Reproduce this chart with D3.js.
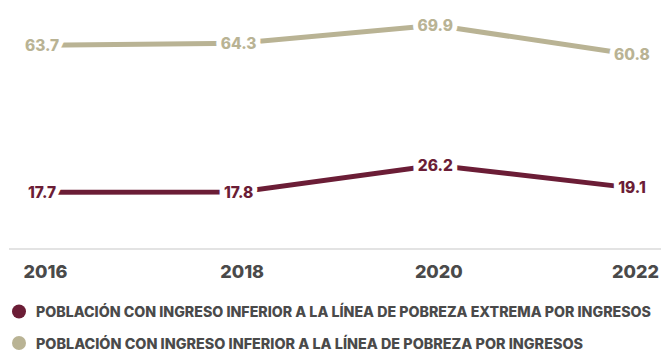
<!DOCTYPE html>
<html>
<head>
<meta charset="utf-8">
<script src="https://cdn.jsdelivr.net/npm/d3@7"></script>
<style>
  html, body { margin: 0; padding: 0; background: #fff; }
  svg { display: block; font-family: "Inter", "Open Sans", sans-serif; }
</style>
</head>
<body>
<svg id="chart" width="661" height="350"></svg>
<script>
const years = ["2016", "2018", "2020", "2022"];
const extremaValues = [17.7, 17.8, 26.2, 19.1];
const pobrezaValues = [63.7, 64.3, 69.9, 60.8];
const seriesNames = [
  "POBLACIÓN CON INGRESO INFERIOR A LA LÍNEA DE POBREZA EXTREMA POR INGRESOS",
  "POBLACIÓN CON INGRESO INFERIOR A LA LÍNEA DE POBREZA POR INGRESOS"
];
const seriesColors = ["#6b1d36", "#b9b394"];

const svg = d3.select("#chart");
const x = d3.scalePoint().domain(years).range([42, 632]);
const y = d3.scaleLinear().domain([0, 75]).range([249, 9]);

// baseline
svg.append("line")
  .attr("x1", 9).attr("x2", 661)
  .attr("y1", y(0)).attr("y2", y(0))
  .attr("stroke", "#e3e3e3").attr("stroke-width", 2);

// x axis
const xAxis = svg.append("g")
  .attr("transform", `translate(3, ${y(0) + 22})`)
  .call(d3.axisBottom(x).tickSize(0).tickPadding(0));
xAxis.select(".domain").remove();
xAxis.selectAll("text")
  .attr("dy", "0.71em")
  .attr("y", -6)
  .style("font-family", "Inter, sans-serif")
  .style("font-size", "18px")
  .style("font-weight", "800")
  .attr("fill", "#4a4a4a");

const series = [
  { name: seriesNames[0], values: extremaValues, color: seriesColors[0] },
  { name: seriesNames[1], values: pobrezaValues, color: seriesColors[1] }
];

const line = d3.line()
  .x((d, i) => x(years[i]))
  .y(d => y(d));

series.forEach(s => {
  svg.append("path")
    .datum(s.values)
    .attr("d", line)
    .attr("fill", "none")
    .attr("stroke", s.color)
    .attr("stroke-width", 5);

  svg.append("g").selectAll("text")
    .data(s.values)
    .join("text")
    .attr("x", (d, i) => x(years[i]))
    .attr("y", d => y(d))
    .attr("text-anchor", "middle")
    .attr("dominant-baseline", "central")
    .attr("fill", s.color)
    .attr("stroke", "#fff")
    .attr("stroke-width", 10)
    .attr("paint-order", "stroke")
    .style("font-size", "15.5px")
    .style("font-weight", "800")
    .text(d => d.toFixed(1));
});

// legend
const legend = svg.append("g");
const legendY = [311.5, 343];
const legendWidths = [615, 547];
series.forEach((s, i) => {
  legend.append("circle")
    .attr("cx", 19).attr("cy", legendY[i]).attr("r", 7)
    .attr("fill", s.color);
  legend.append("text")
    .attr("x", 36).attr("y", legendY[i])
    .attr("dominant-baseline", "central")
    .attr("fill", "#4a4a4a")
    .attr("textLength", legendWidths[i])
    .attr("lengthAdjust", "spacingAndGlyphs")
    .style("font-size", "14px")
    .style("font-weight", "800")
    .text(s.name);
});
</script>
</body>
</html>
